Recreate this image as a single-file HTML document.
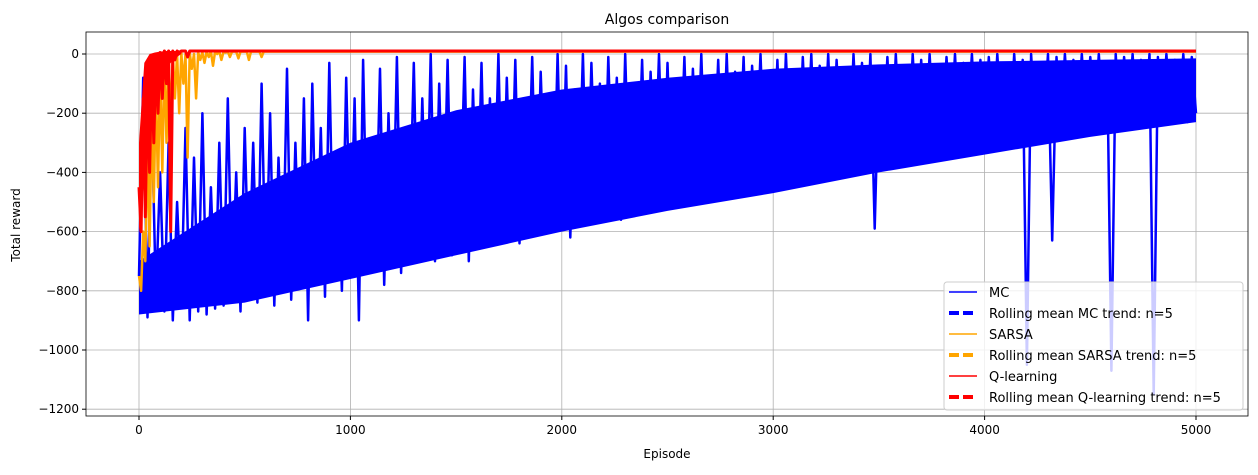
<!DOCTYPE html>
<html><head><meta charset="utf-8"><style>
body{margin:0;background:#fff;font-family:"Liberation Sans","DejaVu Sans",sans-serif}
</style></head><body>
<svg id="chart" width="1258" height="470" xmlns="http://www.w3.org/2000/svg" font-family="'DejaVu Sans','Liberation Sans',sans-serif"></svg>
<script>
const xTicks=[0,1000,2000,3000,4000,5000];
const yTicks=[0,-200,-400,-600,-800,-1000,-1200];
const mcStep=20;
const mcVals=[-750,-80,-890,-200,-820,-400,-870,-300,-900,-500,
-850,-250,-900,-350,-870,-200,-880,-450,-860,-300,
-850,-150,-820,-400,-870,-250,-780,-300,-840,-100,
-800,-200,-850,-350,-760,-50,-830,-300,-780,-150,
-900,-100,-760,-250,-820,-30,-740,-350,-800,-80,
-700,-150,-900,-20,-720,-300,-650,-50,-780,-200,
-680,-10,-740,-250,-600,-30,-700,-150,-640,0,
-700,-100,-620,-20,-680,-200,-560,-10,-700,-120,
-600,-30,-650,-150,-540,0,-620,-80,-560,-20,
-640,-150,-520,-10,-600,-60,-500,-200,-580,0,
-560,-40,-620,-120,-500,0,-560,-30,-480,-100,
-540,-10,-470,-80,-560,0,-500,-150,-450,-20,
-520,-60,-440,0,-500,-30,-470,-120,-420,-10,
-480,-50,-400,0,-460,-90,-380,-20,-440,0,
-420,-60,-380,-10,-470,-40,-360,0,-400,-80,
-380,-20,-420,0,-340,-60,-390,-10,-330,0,
-400,-40,-320,0,-360,-20,-300,-70,-350,0,
-310,-30,-360,0,-590,-50,-300,-10,-330,0,
-290,-40,-320,0,-280,-20,-310,0,-270,-60,
-300,-10,-260,0,-290,-30,-250,0,-280,-20,
-250,-10,-270,0,-240,-40,-260,0,-240,-20,
-1050,0,-250,-30,-220,0,-630,-10,-240,0,
-230,-20,-250,0,-220,-10,-240,0,-210,-30,
-1070,0,-230,-10,-220,0,-240,-20,-210,0,
-1150,-10,-230,0,-220,-20,-210,0,-230,-10,
-200];
const mcBandStep=500;
const mcBandLow=[-880,-840,-760,-680,-600,-530,-470,-400,-340,-280,-230];
const mcBandHigh=[-700,-470,-300,-190,-120,-80,-50,-35,-25,-20,-15];
const sarsaStep=10;
const sarsaVals=[-750,-800,-600,-700,-300,-650,-200,-500,-100,-450,-50,-400,-20,-300,0,-250,5,-150,0,-200,5,-100,0,-350,5,-50,0,-150,5,-20,5,-30,8,-10,8,-40,8,0,8,-20,8,5,8,-10,8,8,8,-15,8,8,8,8,-20,8,8,8,8,8,-10,8,8,8,8,8,8,8,8,8,8,8,8];
const qStep=10;
const qVals=[-450,-600,-150,-550,-100,-400,-50,-300,-10,-200,5,-150,10,-100,10,-600,10,-20,10,5,10,10,10,-10,10,10,10,10,10,10,10];
const qBandStep=25;
const qBandLow=[-600,-420,-260,-160,-90,-55,-30,-12,0];
const qBandHigh=[-300,-30,0,5,8,10,10,10,10];
const xEnd=5000, flatSarsa=8, flatQ=10;

const svg=document.getElementById('chart');
const NS='http://www.w3.org/2000/svg';
const L=86,R=1248,T=32,B=416;
const xs=v=>139+(v/1000)*211.4;
const ys=v=>54-(v/200)*59.2;
function el(tag,attrs,parent){const e=document.createElementNS(NS,tag);for(const k in attrs)e.setAttribute(k,attrs[k]);(parent||svg).appendChild(e);return e;}

const grid=el('g',{});


xTicks.forEach(t=>{el('line',{x1:xs(t),x2:xs(t),y1:T,y2:B,stroke:'#b0b0b0','stroke-width':0.8},grid);});
yTicks.forEach(t=>{el('line',{x1:L,x2:R,y1:ys(t),y2:ys(t),stroke:'#b0b0b0','stroke-width':0.8},grid);});

const clip=el('clipPath',{id:'pc'});el('rect',{x:L,y:T,width:R-L,height:B-T},clip);
const plot=el('g',{'clip-path':'url(#pc)'});
function band(lo,hi,step,color,name){
  const top=hi.map((v,i)=>xs(i*step).toFixed(1)+','+ys(v).toFixed(1));
  const bot=lo.map((v,i)=>xs(i*step).toFixed(1)+','+ys(v).toFixed(1)).reverse();
  const p=el('polygon',{points:top.concat(bot).join(' '),fill:color},plot);
  
  
}
function series(vals,step,flat,color,w,name){
  let pts=vals.map((v,i)=>xs(i*step).toFixed(1)+','+ys(v).toFixed(1));
  if(flat!==null){pts.push(xs(xEnd).toFixed(1)+','+ys(flat).toFixed(1));}
  const p=el('polyline',{points:pts.join(' '),fill:'none',stroke:color,'stroke-width':w,'stroke-linejoin':'round'},plot);
  
  
}
band(mcBandLow,mcBandHigh,mcBandStep,'#0000ff','mc-dense-band');
series(mcVals,mcStep,null,'#0000ff',2.5,'mc-line');
series(sarsaVals,sarsaStep,flatSarsa,'#ffa500',2.5,'sarsa-line');
band(qBandLow,qBandHigh,qBandStep,'#ff0000','q-learning-dense-band');
series(qVals,qStep,flatQ,'#ff0000',3,'q-learning-line');

el('rect',{x:L,y:T,width:R-L,height:B-T,fill:'none',stroke:'#000','stroke-width':0.8});
xTicks.forEach(t=>{el('line',{x1:xs(t),x2:xs(t),y1:B,y2:B+4,stroke:'#000'});
  const tx=el('text',{x:xs(t),y:B+18,'font-size':12,'text-anchor':'middle'});tx.textContent=t;
  });
yTicks.forEach(t=>{el('line',{x1:L-4,x2:L,y1:ys(t),y2:ys(t),stroke:'#000'});
  const tx=el('text',{x:L-7,y:ys(t)+4,'font-size':12,'text-anchor':'end'});tx.textContent=t===0?'0':'\u2212'+(-t);
  });
let t1=el('text',{x:667,y:24,'font-size':14,'text-anchor':'middle'});t1.textContent='Algos comparison';

let t2=el('text',{x:667,y:458,'font-size':12,'text-anchor':'middle'});t2.textContent='Episode';

let t3=el('text',{x:20,y:225,'font-size':12,'text-anchor':'middle',transform:'rotate(-90 20 225)'});t3.textContent='Total reward';


const lg=el('g',{});


el('rect',{x:944,y:282,width:299,height:128,rx:3,fill:'#fff','fill-opacity':0.8,stroke:'#ccc'},lg);
const items=[['MC','#0000ff',false],['Rolling mean MC trend: n=5','#0000ff',true],['SARSA','#ffa500',false],['Rolling mean SARSA trend: n=5','#ffa500',true],['Q-learning','#ff0000',false],['Rolling mean Q-learning trend: n=5','#ff0000',true]];
items.forEach((it,i)=>{const y=292+i*21;
  const g=el('g',{},lg);
  
  
  el('line',{x1:949,x2:977,y1:y,y2:y,stroke:it[1],'stroke-width':it[2]?4:1.5,'stroke-dasharray':it[2]?'10,4':'none'},g);
  const tx=el('text',{x:989,y:y+5,'font-size':13},g);tx.textContent=it[0];});
</script>
</body></html>
